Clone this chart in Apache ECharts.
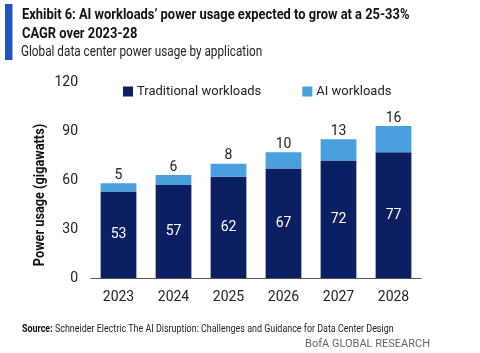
<!DOCTYPE html>
<html>
<head>
<meta charset="utf-8">
<title>AI workloads power usage</title>
<script src="https://cdn.jsdelivr.net/npm/echarts@6/dist/echarts.min.js"></script>
<style>
  html, body, #main { width: 480px; height: 353px; margin: 0; padding: 0; background: #fff; }
</style>
</head>
<body>
<div id="main"></div>
<script type="text/javascript">
// values (gigawatts)
var years = ['2023', '2024', '2025', '2026', '2027', '2028'];
var traditional = [53, 57, 62, 67, 72, 77];
var aiLoads = [5, 6, 8, 10, 13, 16];
var yTicks = [0, 30, 60, 90, 120];

var navy = '#0d1f63';
var lightBlue = '#4a9fde';
var font = 'Roboto, sans-serif';

// texts are squeezed a bit sideways: the original uses a condensed face
function squeezed(txt, x, y, size, weight, color, sx, extra) {
    var el = {
        type: 'text', x: x, y: y, scaleX: sx,
        style: {
            text: txt, verticalAlign: 'middle',
            font: weight + ' ' + size + 'px ' + font, fill: color
        }
    };
    if (extra) {
        for (var k in extra) el.style[k] = extra[k];
    }
    return el;
}

var chart = echarts.init(document.getElementById('main'), null, { renderer: 'canvas' });

var yName = squeezed('Power usage (gigawatts)', 40, 195, 15, 'bold', '#111', 0.85, { align: 'center' });
yName.rotation = Math.PI / 2;

chart.setOption({
    animation: false,
    textStyle: { fontFamily: font },
    graphic: [
        { type: 'rect', shape: { x: 5, y: 4, width: 7.5, height: 56 }, style: { fill: '#2255c4' } },
        squeezed('Exhibit 6: AI workloads\u2019 power usage expected to grow at a 25-33%', 22, 15, 15, 'bold', '#111', 0.86),
        squeezed('CAGR over 2023-28', 22, 34, 15, 'bold', '#111', 0.86),
        squeezed('Global data center power usage by application', 21, 52, 14, 'normal', '#222', 0.84),
        squeezed('{b|Source:} Schneider Electric The AI Disruption: Challenges and Guidance for Data Center Design',
            22, 329, 10.5, 'normal', '#222', 0.85,
            { rich: { b: { fontWeight: 'bold', fontSize: 10.5, fontFamily: font, fill: '#111' } } }),
        squeezed('BofA GLOBAL RESEARCH', 430, 344, 11, 'normal', '#666', 1, { align: 'right' }),
        yName
    ],
    legend: {
        top: 80, left: 118, padding: 5,
        itemWidth: 10, itemHeight: 10, itemGap: 41,
        icon: 'rect',
        textStyle: { fontSize: 13, color: '#222', fontFamily: font, padding: [0, 0, 0, -1] },
        data: ['Traditional workloads', 'AI workloads']
    },
    grid: { left: 91, right: 59, top: 82, bottom: 75, containLabel: false },
    xAxis: {
        type: 'category',
        data: years,
        axisLine: { lineStyle: { color: '#555', width: 1 } },
        axisTick: { show: false },
        axisLabel: { fontSize: 14, color: '#222', margin: 12 }
    },
    yAxis: {
        type: 'value',
        min: yTicks[0], max: yTicks[yTicks.length - 1], interval: 30,
        axisLine: { show: false },
        axisTick: { show: false },
        splitLine: { show: false },
        axisLabel: { fontSize: 14, color: '#222', margin: 13 }
    },
    series: [
        {
            name: 'Traditional workloads',
            type: 'bar', stack: 'total',
            barWidth: '65%',
            data: traditional,
            itemStyle: { color: navy },
            label: { show: true, position: 'inside', color: '#fff', fontSize: 14 }
        },
        {
            name: 'AI workloads',
            type: 'bar', stack: 'total',
            barWidth: '65%',
            data: aiLoads,
            itemStyle: { color: lightBlue },
            label: { show: true, position: 'top', color: '#222', fontSize: 14, distance: 1 }
        }
    ]
});
</script>
</body>
</html>
